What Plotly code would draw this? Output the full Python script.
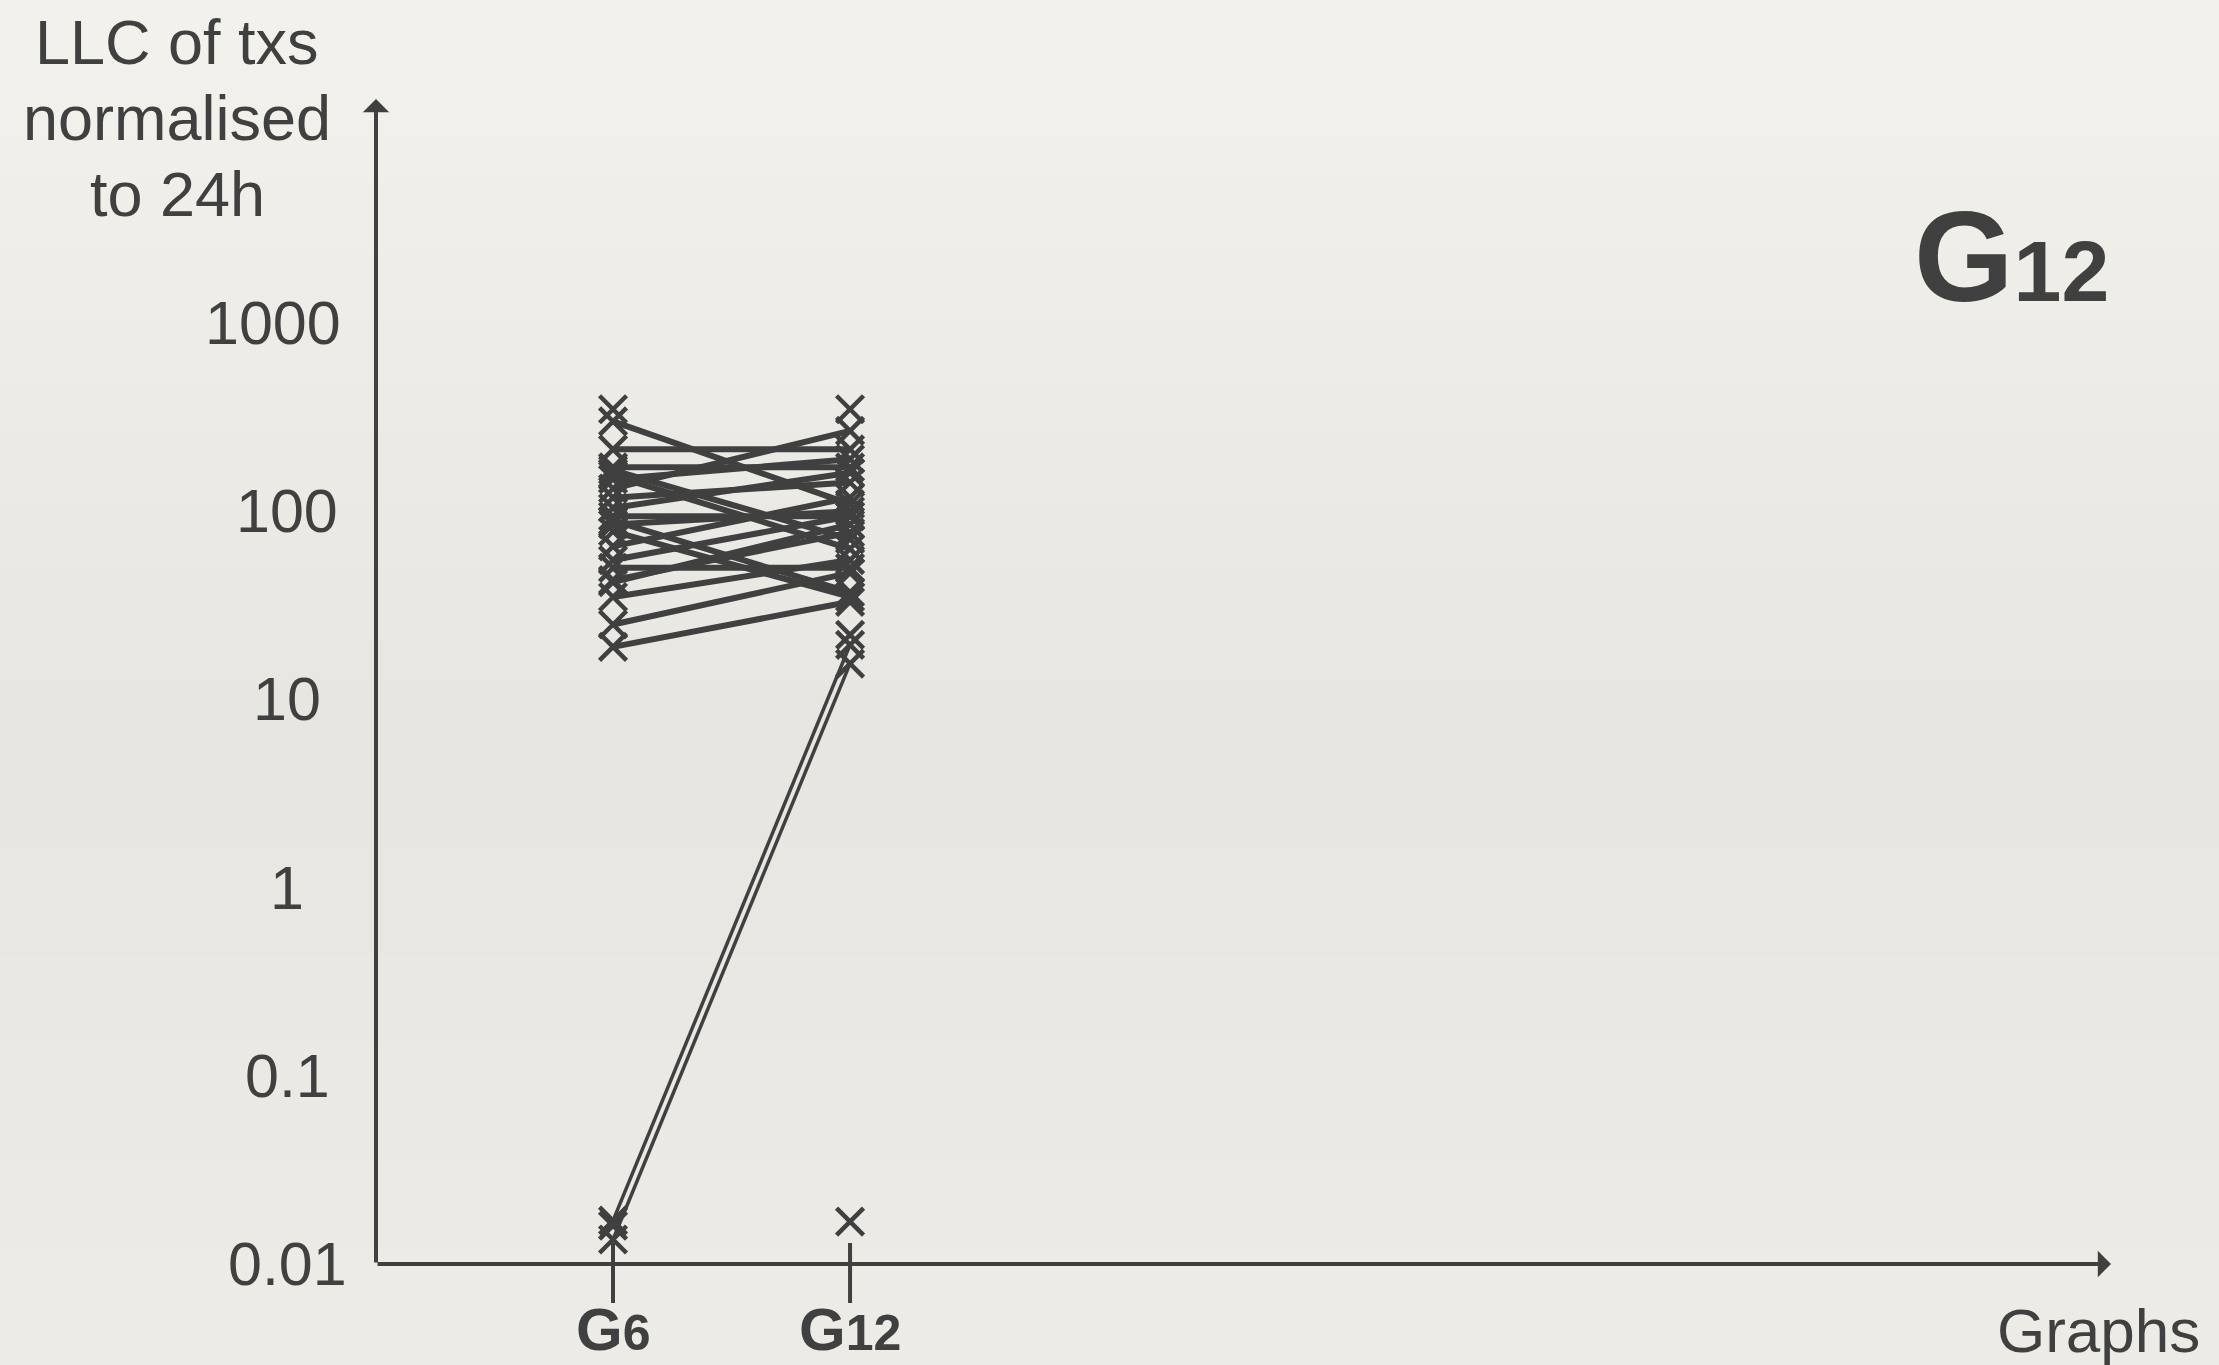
import numpy as np
import plotly.graph_objects as go

# ---------------- data ----------------
categories = ["G6", "G12"]
cat_pos = [1, 2]

# paired LLC values (txs normalised to 24h) for each line G6 -> G12
g6_values = [300, 132, 213, 171, 165, 155, 148, 104, 118, 94, 85, 89, 55, 50, 43, 42, 35, 25, 19, 78, 65, 0.017, 0.0135]
g12_values = [109, 267, 213, 171, 71, 63, 189, 160, 142, 94, 100, 37, 94, 50, 77, 85, 55, 47, 33, 35, 118, 19.5, 15.5]

# markers without a connecting line
g6_extra = [348, 0.016]
g12_extra = [348, 22, 0.0168]

y_tick_vals = [1000, 100, 10, 1, 0.1, 0.01]
y_tick_text = ["1000", "100", "10", "1", "0.1", "0.01"]
y_title_lines = ["LLC of txs", "normalised", "to 24h"]

# ---------------- style ----------------
W, H = 2219, 1365
ML, MR, MT, MB = 376, 108, 99, 101
INK = "#404040"
FONT = "Liberation Sans, Arial, Helvetica, sans-serif"
XMAX = 7.32
YLOG = [-2.0, 4.19]
ph = H - MT - MB
pw = W - ML - MR

fig = go.Figure()

# background gradient bands (decoration)
top_c = np.array([244, 242, 237])
mid_c = np.array([232, 230, 225])
bot_c = np.array([238, 236, 231])
nb = 60
for i in range(nb):
    t = (i + 0.5) / nb  # 0 top -> 1 bottom
    if t < 0.55:
        c = top_c + (mid_c - top_c) * (t / 0.55)
    else:
        c = mid_c + (bot_c - mid_c) * ((t - 0.55) / 0.45)
    y0_px = i * H / nb
    y1_px = (i + 1) * H / nb + 1
    fig.add_shape(type="rect", xref="paper", yref="paper", layer="below",
                  x0=(0 - ML) / pw, x1=(W - ML) / pw,
                  y0=(H - MB - y1_px) / ph, y1=(H - MB - y0_px) / ph,
                  line_width=0, fillcolor="rgb(%d,%d,%d)" % tuple(c.astype(int)))

# connecting lines
n_main = len(g6_values) - 2
for i, (a, b) in enumerate(zip(g6_values, g12_values)):
    fig.add_trace(go.Scatter(x=cat_pos, y=[a, b], mode="lines",
                             line=dict(color=INK, width=6 if i < n_main else 3.5),
                             hoverinfo="skip", showlegend=False))

# markers
mk = dict(symbol="x-thin", size=27, color=INK, line=dict(color=INK, width=4.5))
fig.add_trace(go.Scatter(x=[cat_pos[0]] * (len(g6_values) + len(g6_extra)),
                         y=g6_values + g6_extra, mode="markers", marker=mk,
                         showlegend=False))
fig.add_trace(go.Scatter(x=[cat_pos[1]] * (len(g12_values) + len(g12_extra)),
                         y=g12_values + g12_extra, mode="markers", marker=mk,
                         showlegend=False))

# axes arrows
fig.add_annotation(x=0, y=YLOG[1], ax=0, ay=YLOG[0], xref="x", yref="y",
                   axref="x", ayref="y", showarrow=True, arrowhead=1,
                   arrowsize=1.1, arrowwidth=4, arrowcolor=INK, standoff=0, text="")
fig.add_annotation(x=XMAX, y=YLOG[0], ax=0, ay=YLOG[0], xref="x", yref="y",
                   axref="x", ayref="y", showarrow=True, arrowhead=1,
                   arrowsize=1.1, arrowwidth=4, arrowcolor=INK, standoff=0, text="")

# category ticks and labels
for c, xp in zip(categories, cat_pos):
    fig.add_shape(type="line", xref="x", yref="paper", x0=xp, x1=xp,
                  y0=21 / ph, y1=-39 / ph, line=dict(color=INK, width=4))
    base, sub = c[0], c[1:]
    fig.add_annotation(x=xp, y=-65 / ph, xref="x", yref="paper",
                       text="<b>%s<span style='font-size:50px'>%s</span></b>" % (base, sub),
                       showarrow=False, xanchor="center", yanchor="middle",
                       font=dict(family=FONT, size=60, color=INK))

# y tick labels (centred; the widest one kept left of the axis)
for v, t in zip(y_tick_vals, y_tick_text):
    w = sum(0.278 if ch == "." else 0.556 for ch in t) * 61
    cx = 287 if 287 + w / 2 < 352 else 341 - w / 2
    fig.add_annotation(x=(cx - ML) / pw, y=np.log10(v), xref="paper", yref="y",
                       text=t, showarrow=False, xanchor="center", yanchor="middle",
                       font=dict(family=FONT, size=61, color=INK))

# y axis title (three lines)
for k, line in enumerate(y_title_lines):
    ypx = 42 + k * 76
    fig.add_annotation(x=(177 - ML) / pw, y=(H - MB - ypx) / ph, xref="paper", yref="paper",
                       text=line, showarrow=False, xanchor="center", yanchor="middle",
                       font=dict(family=FONT, size=63, color=INK))

fig.add_annotation(x=(2202 - ML) / pw, y=-66 / ph, xref="paper", yref="paper",
                   text="Graphs", showarrow=False, xanchor="right", yanchor="middle",
                   font=dict(family=FONT, size=62, color=INK))

# big title G12
fig.add_annotation(x=(1912 - ML) / pw, y=(H - MB - 256) / ph, xref="paper", yref="paper",
                   text="<b>G<span style='font-size:86px'>12</span></b>", showarrow=False,
                   xanchor="left", yanchor="middle",
                   font=dict(family=FONT, size=128, color=INK))

fig.update_layout(
    width=W, height=H,
    margin=dict(l=ML, r=MR, t=MT, b=MB, pad=0),
    paper_bgcolor="#ecebe6", plot_bgcolor="rgba(0,0,0,0)",
    xaxis=dict(range=[0, XMAX], showgrid=False, zeroline=False, showline=False,
               showticklabels=False, ticks=""),
    yaxis=dict(type="log", range=YLOG, showgrid=False, zeroline=False, showline=False,
               showticklabels=False, ticks=""),
    showlegend=False,
)

fig.write_html("out.html", config={"displayModeBar": False},
               post_script="document.body.style.margin='0';document.body.style.padding='0';document.body.style.overflow='hidden';")
